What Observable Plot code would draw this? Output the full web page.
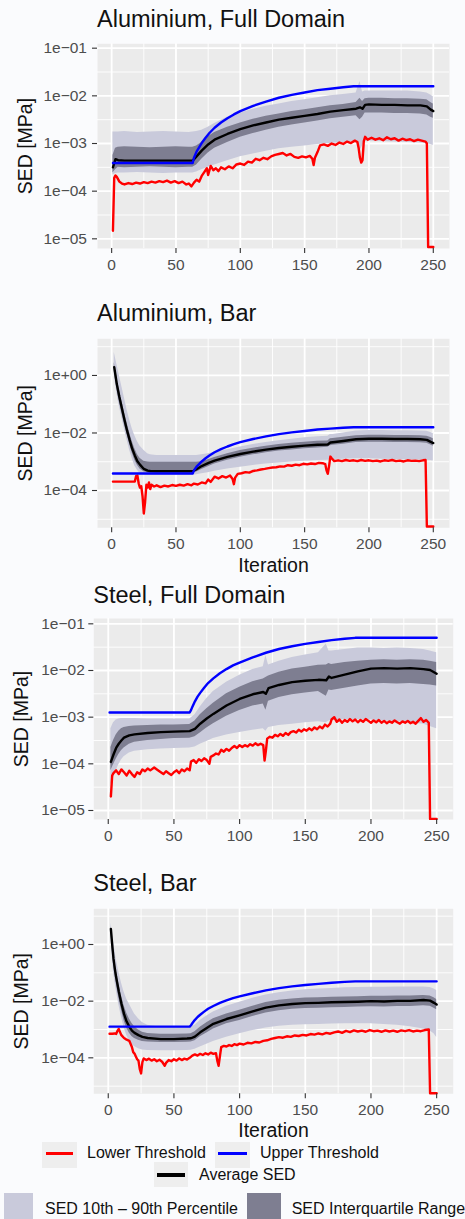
<!DOCTYPE html>
<html>
<head>
<meta charset="utf-8">
<script src="https://cdn.jsdelivr.net/npm/d3@7"></script>
<script src="https://cdn.jsdelivr.net/npm/@observablehq/plot@0.6"></script>
<style>
  html, body { margin: 0; padding: 0; background: #fafbfd; }
  #root { position: relative; width: 465px; height: 1219px; overflow: hidden; background: #fafbfd;
          font-family: 'Liberation Sans', Arial, Helvetica, sans-serif; }
  .title { position: absolute; font-size: 23.5px; line-height: 23.5px; color: #111; white-space: nowrap; }
  .panel { position: absolute; left: 0; }
  .lg { position: absolute; font-size: 16px; line-height: 16px; color: #111; white-space: nowrap; }
  .box { position: absolute; }
</style>
</head>
<body>
<div id="root"></div>
<script>
// ---------------- DATA (SED values stored as log10 of SED in MPa) ----------------
const xTicks = [0, 50, 100, 150, 200, 250];
const xTickLabels = ["0", "50", "100", "150", "200", "250"];
const yTicksFull = [1e-5, 1e-4, 1e-3, 1e-2, 1e-1];
const yTickLabelsFull = ["1e\u221205", "1e\u221204", "1e\u221203", "1e\u221202", "1e\u221201"];
const yTicksBar = [1e-4, 1e-2, 1];
const yTickLabelsBar = ["1e\u221204", "1e\u221202", "1e+00"];

// Aluminium, Full Domain
const alFullIter = [1,3,5,10,20,30,40,50,60,63,66,70,75,80,90,100,110,120,130,140,150,160,170,180,190,193,195,197,200,210,220,230,240,245,248,250];
const alFullMean = [-3.50,-3.33,-3.35,-3.36,-3.36,-3.36,-3.36,-3.36,-3.36,-3.36,-3.27,-3.15,-3.02,-2.92,-2.80,-2.70,-2.62,-2.56,-2.50,-2.46,-2.42,-2.38,-2.33,-2.30,-2.27,-2.24,-2.27,-2.19,-2.18,-2.19,-2.19,-2.20,-2.20,-2.22,-2.29,-2.32];
const alFullQ75 = [-3.25,-3.10,-3.08,-3.07,-3.08,-3.09,-3.08,-3.07,-3.08,-3.08,-3.05,-2.98,-2.86,-2.77,-2.66,-2.57,-2.49,-2.43,-2.38,-2.33,-2.29,-2.25,-2.21,-2.18,-2.14,-2.05,-2.12,-2.06,-2.05,-2.05,-2.06,-2.06,-2.07,-2.08,-2.14,-2.17];
const alFullQ25 = [-3.62,-3.55,-3.50,-3.51,-3.50,-3.49,-3.50,-3.51,-3.50,-3.50,-3.45,-3.33,-3.20,-3.10,-2.98,-2.87,-2.79,-2.72,-2.66,-2.61,-2.57,-2.53,-2.48,-2.45,-2.42,-2.50,-2.45,-2.36,-2.36,-2.36,-2.37,-2.37,-2.38,-2.40,-2.45,-2.47];
const alFullP90 = [-2.76,-2.76,-2.76,-2.75,-2.77,-2.76,-2.75,-2.76,-2.77,-2.76,-2.75,-2.72,-2.66,-2.58,-2.45,-2.36,-2.28,-2.22,-2.17,-2.12,-2.08,-2.04,-2.00,-1.97,-1.94,-1.70,-1.92,-1.90,-1.90,-1.90,-1.90,-1.90,-1.92,-1.94,-1.98,-2.02];
const alFullP10 = [-3.66,-3.63,-3.62,-3.62,-3.61,-3.62,-3.63,-3.62,-3.62,-3.62,-3.60,-3.55,-3.50,-3.45,-3.36,-3.28,-3.22,-3.16,-3.11,-3.08,-3.05,-3.02,-3.00,-2.98,-2.96,-3.15,-3.05,-2.95,-2.95,-2.96,-2.97,-2.98,-2.99,-3.00,-3.02,-3.04];
const alFullLower = [[1,-4.83],[2,-3.72],[3,-3.67],[4,-3.70],[6,-3.80],[8,-3.84],[10,-3.86],[13,-3.83],[16,-3.85],[19,-3.82],[22,-3.84],[25,-3.81],[28,-3.83],[31,-3.80],[34,-3.82],[37,-3.79],[40,-3.81],[43,-3.78],[46,-3.82],[49,-3.79],[52,-3.83],[55,-3.80],[58,-3.86],[60,-3.84],[62,-3.90],[64,-3.82],[66,-3.76],[68,-3.80],[70,-3.68],[72,-3.60],[74,-3.52],[75,-3.66],[77,-3.47],[79,-3.56],[81,-3.52],[83,-3.58],[85,-3.50],[88,-3.54],[91,-3.48],[94,-3.52],[97,-3.44],[100,-3.42],[103,-3.45],[106,-3.38],[109,-3.40],[112,-3.32],[115,-3.35],[118,-3.30],[121,-3.33],[124,-3.27],[127,-3.24],[130,-3.22],[133,-3.20],[136,-3.25],[139,-3.22],[142,-3.28],[145,-3.30],[148,-3.27],[151,-3.29],[154,-3.26],[156,-3.32],[157,-3.45],[158,-3.30],[160,-3.18],[162,-3.04],[165,-3.02],[168,-3.05],[171,-3.00],[174,-3.03],[177,-2.98],[180,-3.01],[183,-2.96],[186,-2.99],[189,-2.94],[191,-2.97],[192,-3.10],[193,-3.30],[194,-3.40],[195,-3.35],[196,-2.95],[197,-2.86],[199,-2.92],[202,-2.88],[205,-2.92],[208,-2.89],[211,-2.93],[214,-2.87],[217,-2.91],[220,-2.89],[223,-2.94],[226,-2.90],[229,-2.93],[232,-2.91],[235,-2.95],[238,-2.92],[241,-2.94],[244,-2.96],[245,-3.00],[246,-5.17],[250,-5.17]];
const alUpperIter = [1,63,64,66,68,70,73,76,80,85,90,95,100,110,120,130,140,150,160,170,180,188,250];
const alUpper = [-3.41,-3.41,-3.30,-3.17,-3.08,-2.99,-2.88,-2.78,-2.67,-2.56,-2.47,-2.39,-2.32,-2.21,-2.12,-2.04,-1.98,-1.93,-1.88,-1.85,-1.82,-1.80,-1.80];

// Aluminium, Bar
const alBarIter = [2,3,4,5,6,8,10,12,14,16,18,20,22,25,28,30,35,40,50,60,63,66,70,75,80,90,100,110,120,130,140,150,160,168,170,172,180,190,200,210,220,230,240,245,248,250];
const alBarMean = [0.29,0.00,-0.30,-0.52,-0.75,-1.15,-1.55,-1.92,-2.25,-2.55,-2.78,-2.98,-3.10,-3.25,-3.31,-3.32,-3.33,-3.33,-3.33,-3.33,-3.33,-3.26,-3.15,-3.05,-2.96,-2.83,-2.73,-2.65,-2.58,-2.52,-2.48,-2.44,-2.41,-2.40,-2.33,-2.32,-2.28,-2.22,-2.20,-2.20,-2.21,-2.21,-2.22,-2.24,-2.31,-2.35];
const alBarP90 = [0.81,0.60,0.40,0.20,0.00,-0.40,-0.80,-1.20,-1.55,-1.85,-2.10,-2.30,-2.45,-2.60,-2.72,-2.76,-2.78,-2.78,-2.78,-2.78,-2.78,-2.78,-2.76,-2.72,-2.68,-2.58,-2.49,-2.40,-2.33,-2.27,-2.22,-2.17,-2.13,-2.11,-2.05,-2.05,-2.00,-1.93,-1.91,-1.91,-1.92,-1.92,-1.93,-1.94,-1.98,-2.02];
const alBarQ75 = [0.45,0.20,-0.05,-0.28,-0.50,-0.90,-1.30,-1.65,-2.00,-2.30,-2.55,-2.75,-2.88,-2.98,-3.01,-3.02,-3.02,-3.02,-3.02,-3.02,-3.02,-3.02,-3.00,-2.93,-2.85,-2.72,-2.61,-2.53,-2.46,-2.40,-2.36,-2.32,-2.29,-2.28,-2.20,-2.19,-2.15,-2.10,-2.08,-2.08,-2.09,-2.09,-2.10,-2.11,-2.16,-2.20];
const alBarQ25 = [0.15,-0.15,-0.45,-0.70,-0.92,-1.32,-1.72,-2.05,-2.40,-2.70,-2.95,-3.12,-3.25,-3.35,-3.38,-3.40,-3.40,-3.40,-3.40,-3.40,-3.40,-3.36,-3.27,-3.17,-3.08,-2.95,-2.84,-2.76,-2.69,-2.63,-2.59,-2.55,-2.52,-2.50,-2.44,-2.43,-2.39,-2.33,-2.32,-2.32,-2.33,-2.33,-2.34,-2.36,-2.42,-2.46];
const alBarP10 = [0.00,-0.30,-0.60,-0.85,-1.08,-1.48,-1.88,-2.25,-2.60,-2.90,-3.15,-3.30,-3.40,-3.45,-3.47,-3.47,-3.47,-3.47,-3.47,-3.47,-3.47,-3.45,-3.42,-3.38,-3.33,-3.25,-3.19,-3.13,-3.08,-3.04,-3.01,-2.98,-2.96,-2.95,-2.93,-2.92,-2.91,-2.90,-2.90,-2.91,-2.92,-2.93,-2.94,-2.95,-2.96,-2.97];
const alBarLower = [[1,-3.69],[18,-3.69],[19,-3.50],[20,-3.48],[21,-3.75],[22,-3.90],[23,-3.85],[24,-4.20],[25,-4.80],[26,-4.40],[27,-3.80],[28,-3.90],[29,-3.72],[30,-3.95],[31,-3.80],[33,-3.86],[35,-3.82],[38,-3.88],[41,-3.83],[44,-3.86],[47,-3.81],[50,-3.84],[53,-3.80],[56,-3.83],[59,-3.78],[62,-3.82],[64,-3.76],[67,-3.79],[70,-3.72],[73,-3.75],[75,-3.62],[77,-3.70],[80,-3.52],[83,-3.58],[86,-3.50],[89,-3.55],[92,-3.48],[94,-3.60],[95,-3.78],[96,-3.55],[98,-3.42],[101,-3.40],[104,-3.36],[107,-3.38],[110,-3.32],[113,-3.30],[116,-3.27],[119,-3.25],[122,-3.22],[125,-3.20],[128,-3.19],[131,-3.16],[134,-3.17],[137,-3.12],[140,-3.14],[143,-3.10],[146,-3.12],[149,-3.07],[152,-3.09],[155,-3.06],[158,-3.08],[161,-3.04],[164,-3.05],[166,-3.08],[167,-3.30],[168,-3.42],[169,-3.15],[170,-2.82],[171,-2.88],[173,-2.98],[176,-2.95],[179,-2.98],[182,-2.94],[185,-2.97],[188,-2.95],[191,-2.98],[194,-2.94],[197,-2.97],[200,-2.95],[203,-2.98],[206,-2.96],[209,-2.99],[212,-2.95],[215,-2.97],[218,-2.94],[221,-2.98],[224,-2.96],[227,-2.99],[230,-2.95],[233,-2.97],[236,-2.96],[239,-2.98],[242,-2.95],[244,-2.94],[245,-5.25],[250,-5.25]];

// Steel, Full Domain
const stFullIter = [2,4,6,8,10,12,16,20,30,40,50,62,66,70,75,80,90,100,110,118,120,122,130,140,150,160,166,168,170,180,190,200,210,220,230,240,245,250];
const stFullMean = [-3.96,-3.80,-3.66,-3.57,-3.50,-3.44,-3.39,-3.37,-3.34,-3.32,-3.31,-3.30,-3.25,-3.14,-3.03,-2.93,-2.75,-2.61,-2.51,-2.46,-2.50,-2.38,-2.31,-2.25,-2.22,-2.20,-2.21,-2.13,-2.16,-2.09,-2.02,-1.96,-1.95,-1.96,-1.95,-1.97,-1.99,-2.07];
const stFullQ75 = [-3.65,-3.50,-3.38,-3.30,-3.25,-3.22,-3.20,-3.19,-3.18,-3.17,-3.17,-3.16,-3.08,-2.95,-2.82,-2.70,-2.50,-2.36,-2.24,-2.18,-2.15,-2.12,-2.04,-1.97,-1.93,-1.89,-1.88,-1.85,-1.87,-1.83,-1.80,-1.78,-1.77,-1.78,-1.77,-1.78,-1.80,-1.83];
const stFullQ25 = [-4.15,-4.02,-3.90,-3.80,-3.72,-3.66,-3.58,-3.54,-3.50,-3.48,-3.46,-3.45,-3.42,-3.34,-3.23,-3.14,-2.98,-2.86,-2.76,-2.72,-2.85,-2.66,-2.58,-2.52,-2.48,-2.45,-2.55,-2.42,-2.43,-2.38,-2.33,-2.29,-2.28,-2.29,-2.28,-2.30,-2.31,-2.33];
const stFullP90 = [-3.25,-3.12,-3.06,-3.04,-3.03,-3.03,-3.03,-3.03,-3.04,-3.04,-3.04,-3.04,-2.95,-2.78,-2.60,-2.45,-2.25,-2.10,-1.98,-1.92,-1.68,-1.88,-1.80,-1.72,-1.67,-1.62,-1.43,-1.58,-1.58,-1.55,-1.52,-1.52,-1.53,-1.52,-1.53,-1.55,-1.58,-1.62];
const stFullP10 = [-4.45,-4.30,-4.15,-4.02,-3.92,-3.85,-3.77,-3.73,-3.70,-3.68,-3.67,-3.66,-3.64,-3.58,-3.52,-3.46,-3.38,-3.33,-3.28,-3.25,-3.30,-3.22,-3.18,-3.15,-3.12,-3.10,-3.12,-3.08,-3.07,-3.05,-3.05,-3.06,-3.08,-3.10,-3.12,-3.15,-3.20,-3.25];
const stFullLower = [[2,-4.70],[3,-4.25],[4,-4.20],[6,-4.14],[8,-4.22],[10,-4.12],[12,-4.18],[14,-4.25],[16,-4.15],[18,-4.22],[20,-4.28],[22,-4.18],[24,-4.22],[26,-4.12],[28,-4.16],[30,-4.10],[32,-4.14],[35,-4.08],[37,-4.12],[40,-4.18],[42,-4.22],[44,-4.16],[46,-4.20],[48,-4.24],[50,-4.18],[52,-4.14],[54,-4.20],[56,-4.12],[58,-4.16],[60,-4.10],[62,-4.14],[63,-3.95],[65,-3.92],[67,-3.98],[69,-3.90],[71,-3.94],[73,-3.88],[75,-3.92],[77,-4.00],[78,-3.85],[80,-3.82],[82,-3.78],[84,-3.80],[86,-3.70],[88,-3.74],[90,-3.68],[92,-3.72],[94,-3.66],[96,-3.62],[98,-3.66],[100,-3.60],[102,-3.64],[104,-3.60],[106,-3.63],[108,-3.58],[110,-3.61],[112,-3.56],[114,-3.60],[116,-3.57],[118,-3.60],[119,-3.93],[120,-3.72],[121,-3.46],[123,-3.42],[125,-3.44],[127,-3.38],[129,-3.41],[131,-3.36],[133,-3.40],[135,-3.34],[137,-3.38],[139,-3.32],[141,-3.30],[143,-3.33],[145,-3.27],[147,-3.31],[149,-3.26],[151,-3.29],[153,-3.24],[155,-3.28],[157,-3.22],[159,-3.26],[161,-3.20],[163,-3.24],[165,-3.16],[167,-3.20],[169,-3.14],[170,-3.05],[172,-3.00],[174,-3.10],[176,-3.05],[178,-3.12],[180,-3.06],[182,-3.10],[184,-3.04],[186,-3.09],[188,-3.05],[190,-3.11],[192,-3.06],[194,-3.10],[196,-3.04],[198,-3.08],[200,-3.12],[202,-3.07],[204,-3.11],[206,-3.06],[208,-3.12],[210,-3.08],[212,-3.13],[214,-3.09],[216,-3.12],[218,-3.07],[220,-3.11],[222,-3.14],[224,-3.09],[226,-3.12],[228,-3.08],[230,-3.13],[232,-3.10],[234,-3.14],[236,-3.08],[238,-3.02],[240,-3.10],[242,-3.06],[244,-3.12],[245,-5.18],[250,-5.18]];
const stUpperIter = [1,62,63,64,66,68,70,73,76,80,85,90,95,100,110,120,130,140,150,160,170,180,188,250];
const stUpper = [-2.90,-2.90,-2.85,-2.78,-2.66,-2.56,-2.48,-2.37,-2.27,-2.17,-2.06,-1.97,-1.89,-1.83,-1.72,-1.62,-1.54,-1.48,-1.43,-1.39,-1.35,-1.32,-1.30,-1.30];

// Steel, Bar
const stBarIter = [2,3,4,5,6,8,10,12,14,16,18,20,23,26,30,40,50,60,63,66,70,75,80,90,100,110,120,130,140,150,160,170,180,190,200,210,220,230,240,245,248,250];
const stBarMean = [0.55,0.00,-0.50,-0.85,-1.15,-1.65,-2.08,-2.45,-2.72,-2.90,-3.04,-3.12,-3.20,-3.26,-3.30,-3.34,-3.34,-3.32,-3.31,-3.25,-3.10,-2.95,-2.80,-2.63,-2.50,-2.36,-2.23,-2.15,-2.10,-2.07,-2.06,-2.04,-2.03,-2.02,-2.00,-2.01,-1.99,-1.99,-1.96,-1.98,-2.06,-2.12];
const stBarP90 = [0.75,0.45,0.10,-0.20,-0.50,-0.95,-1.35,-1.68,-1.92,-2.10,-2.28,-2.45,-2.62,-2.75,-2.85,-2.92,-2.92,-2.92,-2.92,-2.85,-2.68,-2.52,-2.38,-2.18,-2.04,-1.90,-1.78,-1.70,-1.64,-1.60,-1.57,-1.55,-1.53,-1.52,-1.51,-1.51,-1.50,-1.50,-1.50,-1.52,-1.57,-1.62];
const stBarQ75 = [0.60,0.20,-0.25,-0.60,-0.90,-1.38,-1.80,-2.15,-2.42,-2.62,-2.78,-2.90,-3.02,-3.10,-3.14,-3.17,-3.17,-3.16,-3.15,-3.08,-2.92,-2.76,-2.62,-2.45,-2.32,-2.18,-2.05,-1.97,-1.92,-1.89,-1.88,-1.86,-1.85,-1.84,-1.83,-1.83,-1.82,-1.82,-1.80,-1.82,-1.88,-1.94];
const stBarQ25 = [0.45,-0.15,-0.70,-1.05,-1.35,-1.88,-2.30,-2.68,-2.95,-3.12,-3.25,-3.32,-3.38,-3.42,-3.44,-3.46,-3.46,-3.45,-3.44,-3.40,-3.26,-3.12,-2.98,-2.80,-2.68,-2.54,-2.42,-2.34,-2.29,-2.26,-2.25,-2.23,-2.22,-2.21,-2.20,-2.21,-2.19,-2.19,-2.16,-2.18,-2.25,-2.30];
const stBarP10 = [0.30,-0.40,-0.95,-1.30,-1.60,-2.12,-2.55,-2.92,-3.20,-3.38,-3.52,-3.60,-3.68,-3.72,-3.74,-3.75,-3.75,-3.74,-3.73,-3.70,-3.62,-3.52,-3.42,-3.27,-3.15,-3.04,-2.95,-2.89,-2.85,-2.83,-2.82,-2.81,-2.80,-2.80,-2.80,-2.82,-2.85,-2.90,-2.98,-3.05,-3.15,-3.28];
const stBarLower = [[1,-3.15],[3,-3.15],[5,-3.14],[6,-3.16],[7,-3.05],[8,-2.98],[9,-3.10],[10,-3.20],[12,-3.30],[14,-3.36],[16,-3.40],[18,-3.62],[19,-3.80],[20,-3.85],[21,-3.95],[22,-4.05],[23,-4.10],[24,-4.40],[25,-4.55],[26,-4.15],[27,-4.02],[29,-4.08],[31,-4.03],[33,-4.10],[35,-4.05],[37,-4.12],[39,-4.07],[41,-4.14],[43,-4.28],[44,-4.18],[46,-4.08],[48,-4.12],[50,-4.05],[52,-4.10],[54,-4.02],[56,-4.08],[58,-4.03],[60,-4.06],[62,-4.00],[64,-3.92],[66,-3.88],[68,-3.92],[70,-3.86],[72,-3.90],[74,-3.84],[76,-3.88],[78,-3.82],[80,-3.86],[82,-3.84],[83,-4.10],[84,-4.28],[85,-3.95],[86,-3.62],[88,-3.58],[90,-3.60],[92,-3.55],[94,-3.58],[96,-3.52],[98,-3.55],[100,-3.50],[103,-3.53],[106,-3.47],[109,-3.49],[112,-3.44],[115,-3.46],[118,-3.40],[121,-3.38],[124,-3.33],[127,-3.30],[130,-3.27],[133,-3.29],[136,-3.24],[139,-3.26],[142,-3.21],[145,-3.23],[148,-3.19],[151,-3.21],[154,-3.16],[157,-3.18],[160,-3.14],[163,-3.17],[166,-3.12],[169,-3.15],[172,-3.10],[175,-3.07],[178,-3.12],[181,-3.05],[184,-3.09],[187,-3.03],[190,-3.07],[193,-3.04],[196,-3.08],[199,-3.02],[202,-3.06],[205,-3.04],[208,-3.08],[211,-3.03],[214,-3.07],[217,-3.04],[220,-3.08],[223,-3.03],[226,-3.06],[229,-3.02],[232,-3.07],[235,-3.04],[238,-3.06],[241,-3.02],[244,-3.00],[245,-5.25],[250,-5.25]];

const legendLines = ["Lower Threshold", "Upper Threshold", "Average SED"];
const legendFills = ["SED 10th \u2013 90th Percentile", "SED Interquartile Range"];

// ---------------- STYLE ----------------
const FONT = "'Liberation Sans', Arial, Helvetica, sans-serif";
const C_LOW = "#ff0000", C_UP = "#0000ff", C_MEAN = "#000000";
const C_P = "#c9cadb", C_IQR = "#7e7e91", C_PANEL = "#ebebeb";

const root = document.getElementById("root");

function panel(cfg) {
  const band = cfg.iter.map((it, k) => ({
    it,
    mean: 10 ** cfg.mean[k], p10: 10 ** cfg.p10[k], p90: 10 ** cfg.p90[k],
    q25: 10 ** cfg.q25[k], q75: 10 ** cfg.q75[k]
  }));
  const low = cfg.lower.map(([it, e]) => ({it, v: 10 ** e}));
  const up = cfg.upIter.map((it, k) => ({it, v: 10 ** cfg.up[k]}));
  const yLab = new Map(cfg.yTicks.map((t, k) => [t, cfg.yLabels[k]]));
  const xLab = new Map(xTicks.map((t, k) => [t, xTickLabels[k]]));
  const lw = 2.4;
  const marks = [
    Plot.frame({fill: C_PANEL, stroke: "none"}),
    Plot.ruleY(cfg.yMinor, {stroke: "#fff", strokeWidth: 0.9}),
    Plot.ruleX([25, 75, 125, 175, 225], {stroke: "#fff", strokeWidth: 0.9}),
    Plot.ruleY(cfg.yTicks, {stroke: "#fff", strokeWidth: 1.8}),
    Plot.ruleX(xTicks, {stroke: "#fff", strokeWidth: 1.8}),
    Plot.areaY(band, {x: "it", y1: "p10", y2: "p90", fill: C_P}),
    Plot.areaY(band, {x: "it", y1: "q25", y2: "q75", fill: C_IQR}),
    Plot.line(low, {x: "it", y: "v", stroke: C_LOW, strokeWidth: lw, strokeLinejoin: "round"}),
    Plot.line(band, {x: "it", y: "mean", stroke: C_MEAN, strokeWidth: lw, strokeLinejoin: "round"}),
    Plot.line(up, {x: "it", y: "v", stroke: C_UP, strokeWidth: lw, strokeLinejoin: "round"}),
    Plot.axisX(xTicks, {tickFormat: d => xLab.get(d), tickSize: 5, tickPadding: 5, fontSize: 15.5,
      fill: "#4d4d4d", stroke: "#333", strokeWidth: 1.1, label: null}),
    Plot.axisY(cfg.yTicks, {tickFormat: d => yLab.get(d), tickSize: 5, tickPadding: cfg.tp, fontSize: 15.5,
      fill: "#4d4d4d", stroke: "#333", strokeWidth: 1.1, label: null}),
    Plot.text(["SED [MPa]"], {text: d => d, frameAnchor: "left", dx: cfg.ylDx, rotate: -90,
      textAnchor: "middle", lineAnchor: "middle", fontSize: 19.5, fill: "#111"})
  ];
  if (cfg.xTitle) {
    marks.push(Plot.text(["Iteration"], {text: d => d, frameAnchor: "bottom", dy: cfg.xlDy,
      textAnchor: "middle", lineAnchor: "middle", fontSize: 19.5, fill: "#111"}));
  }
  const svg = Plot.plot({
    width: 465, height: cfg.height,
    marginLeft: cfg.ml, marginRight: cfg.mr, marginTop: cfg.mt, marginBottom: cfg.mb,
    style: {background: "none", fontFamily: FONT, overflow: "visible"},
    x: {domain: [-11, 262.6]},
    y: {type: "log", domain: cfg.yDomain},
    marks
  });
  svg.classList.add("panel");
  svg.style.position = "absolute";
  svg.style.top = cfg.top + "px";
  svg.style.left = "0px";
  root.appendChild(svg);

  const t = document.createElement("div");
  t.className = "title";
  t.textContent = cfg.title;
  t.style.left = cfg.titleX + "px";
  t.style.top = cfg.titleTop + "px";
  root.appendChild(t);
}

panel({
  title: "Aluminium, Full Domain", titleX: 97, titleTop: 8.4,
  top: 33, height: 245, mt: 10.3, mb: 30, ml: 97, mr: 16, tp: 5.5, ylDx: -72,
  yDomain: [10 ** -5.203, 10 ** -0.908], yTicks: yTicksFull, yLabels: yTickLabelsFull,
  yMinor: [10 ** -4.5, 10 ** -3.5, 10 ** -2.5, 10 ** -1.5],
  iter: alFullIter, mean: alFullMean, p10: alFullP10, p90: alFullP90, q25: alFullQ25, q75: alFullQ75,
  lower: alFullLower, upIter: alUpperIter, up: alUpper, xTitle: false
});
panel({
  title: "Aluminium, Bar", titleX: 97, titleTop: 301.8,
  top: 328, height: 250, mt: 10.3, mb: 50.7, ml: 97, mr: 16, tp: 5.5, ylDx: -72,
  yDomain: [10 ** -5.297, 10 ** 1.275], yTicks: yTicksBar, yLabels: yTickLabelsBar,
  yMinor: [1e-5, 1e-3, 1e-1, 10],
  iter: alBarIter, mean: alBarMean, p10: alBarP10, p90: alBarP90, q25: alBarQ25, q75: alBarQ75,
  lower: alBarLower, upIter: alUpperIter, up: alUpper, xTitle: true, xlDy: 37.5
});
panel({
  title: "Steel, Full Domain", titleX: 93.3, titleTop: 584.1,
  top: 608, height: 241, mt: 10, mb: 30, ml: 93.3, mr: 12.3, tp: 4, ylDx: -72.3,
  yDomain: [10 ** -5.193, 10 ** -0.886], yTicks: yTicksFull, yLabels: yTickLabelsFull,
  yMinor: [10 ** -4.5, 10 ** -3.5, 10 ** -2.5, 10 ** -1.5],
  iter: stFullIter, mean: stFullMean, p10: stFullP10, p90: stFullP90, q25: stFullQ25, q75: stFullQ75,
  lower: stFullLower, upIter: stUpperIter, up: stUpper, xTitle: false
});
panel({
  title: "Steel, Bar", titleX: 93.3, titleTop: 871.8,
  top: 898, height: 250, mt: 10.3, mb: 54.7, ml: 93.3, mr: 12.3, tp: 4, ylDx: -72.3,
  yDomain: [10 ** -5.27, 10 ** 1.26], yTicks: yTicksBar, yLabels: yTickLabelsBar,
  yMinor: [1e-5, 1e-3, 1e-1, 10],
  iter: stBarIter, mean: stBarMean, p10: stBarP10, p90: stBarP90, q25: stBarQ25, q75: stBarQ75,
  lower: stBarLower, upIter: stUpperIter, up: stUpper, xTitle: true, xlDy: 36.8
});

// ---------------- LEGEND ----------------
function box(x, y, w, h, color) {
  const d = document.createElement("div");
  d.className = "box";
  Object.assign(d.style, {left: x + "px", top: y + "px", width: w + "px", height: h + "px", background: color});
  root.appendChild(d);
}
function label(x, top, text) {
  const d = document.createElement("div");
  d.className = "lg";
  d.textContent = text;
  d.style.left = x + "px";
  d.style.top = top + "px";
  root.appendChild(d);
}
// line keys
box(42, 1141.7, 35, 26.6, "#eeeeee");
box(46, 1151.5, 27, 3.6, C_LOW);
label(87, 1144.9, legendLines[0]);
box(215, 1141.7, 35, 26.6, "#eeeeee");
box(218, 1151.5, 29, 3.6, C_UP);
label(260, 1144.9, legendLines[1]);
box(154, 1161.7, 34, 25, "#eeeeee");
box(157, 1173.2, 28, 3.6, C_MEAN);
label(199, 1167.2, legendLines[2]);
// fill keys
box(4, 1193, 29.3, 26, C_P);
label(45, 1201.2, legendFills[0]);
box(247, 1193, 34, 26, C_IQR);
label(291.7, 1201.2, legendFills[1]);
</script>
</body>
</html>
